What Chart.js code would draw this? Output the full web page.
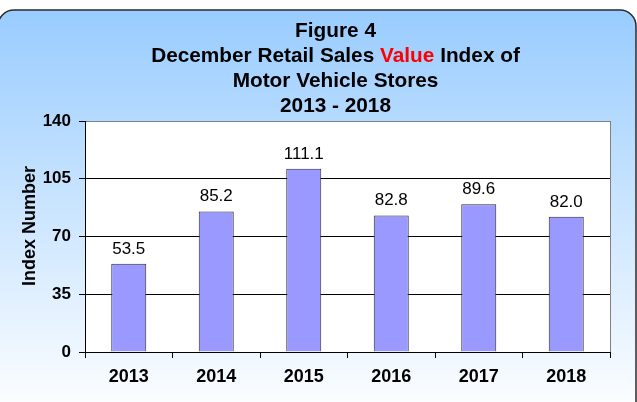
<!DOCTYPE html>
<html lang="en">
<head>
<meta charset="UTF-8">
<title>Figure 4</title>
<script src="https://cdn.jsdelivr.net/npm/chart.js"></script>
<style>
  html, body { margin: 0; padding: 0; background: #fff; }
  #wrap { width: 637px; height: 402px; position: relative; }
</style>
</head>
<body>
<div id="wrap">
  <canvas id="grafico" width="637" height="402"></canvas>
</div>
<script>
  // data
  const years = ['2013', '2014', '2015', '2016', '2017', '2018'];
  const indexValues = [53.5, 85.2, 111.1, 82.8, 89.6, 82.0];
  const yTicks = [0, 35, 70, 105, 140];
  const titleLines = [
    [['Figure 4', '#000']],
    [['December Retail Sales ', '#000'], ['Value', '#ff0000'], [' Index of', '#000']],
    [['Motor Vehicle Stores', '#000']],
    [['2013 - 2018', '#000']]
  ];
  const yTitle = 'Index Number';

  const FONT = '"Liberation Sans", Arial, sans-serif';

  // frame, gradient and white plot area
  const background = {
    id: 'background',
    beforeDraw(chart) {
      const c = chart.ctx;
      const a = chart.chartArea;
      c.save();
      const g = c.createLinearGradient(0, 10, 0, 402);
      g.addColorStop(0, '#99ccff');
      g.addColorStop(1, '#fbfdff');
      c.beginPath();
      c.roundRect(-2, 10, 638, 420, 16);
      c.fillStyle = g;
      c.fill();
      c.lineWidth = 1.5;
      c.strokeStyle = '#2a2a2a';
      c.stroke();
      c.fillStyle = '#fff';
      c.fillRect(a.left, a.top, a.right - a.left, a.bottom - a.top);
      c.restore();
    },
    afterDraw(chart) {
      const c = chart.ctx;
      const a = chart.chartArea;
      c.save();
      // right border of plot area
      c.strokeStyle = '#808080';
      c.lineWidth = 1;
      c.beginPath();
      c.moveTo(a.right + 0.5, a.top);
      c.lineTo(a.right + 0.5, a.bottom);
      c.stroke();

      // title, with "Value" in red
      c.font = 'bold 20.8px ' + FONT;
      c.textBaseline = 'middle';
      c.textAlign = 'left';
      const cx = 335.5;
      titleLines.forEach((parts, i) => {
        const w = parts.reduce((s, p) => s + c.measureText(p[0]).width, 0);
        let x = cx - w / 2;
        const y = 31 + i * 25;
        parts.forEach(p => {
          c.fillStyle = p[1];
          c.fillText(p[0], x, y);
          x += c.measureText(p[0]).width;
        });
      });

      // y axis title
      c.translate(30, 226);
      c.rotate(-Math.PI / 2);
      c.textAlign = 'center';
      c.fillStyle = '#000';
      c.font = 'bold 18px ' + FONT;
      c.fillText(yTitle, 0, 0);
      c.restore();

      // value labels above bars
      const meta = chart.getDatasetMeta(0);
      c.save();
      c.font = '17px ' + FONT;
      c.fillStyle = '#000';
      c.textAlign = 'center';
      c.textBaseline = 'alphabetic';
      meta.data.forEach((bar, i) => {
        c.fillText(indexValues[i].toFixed(1), bar.x, bar.y - 10);
      });
      c.restore();
    }
  };

  const ctx = document.getElementById('grafico');

  new Chart(ctx, {
    type: 'bar',
    data: {
      labels: years,
      datasets: [{
        data: indexValues,
        backgroundColor: '#9999ff',
        borderColor: '#2b2b2b',
        borderWidth: 1,
        borderSkipped: 'bottom',
        categoryPercentage: 1,
        barPercentage: 0.4
      }]
    },
    options: {
      responsive: false,
      animation: false,
      layout: { padding: { top: 121, right: 27, bottom: 0, left: 0 } },
      plugins: {
        legend: { display: false },
        tooltip: { enabled: false },
        title: { display: false }
      },
      scales: {
        x: {
          afterFit(s) { s.height = 50; },
          grid: {
            offset: true,
            drawOnChartArea: false,
            color: '#000',
            tickLength: 6
          },
          border: { color: '#000', width: 1 },
          ticks: {
            color: '#000',
            padding: 8,
            font: { family: FONT, size: 18, weight: 'bold' }
          }
        },
        y: {
          min: 0,
          max: 140,
          afterFit(s) { s.width = 85; },
          afterBuildTicks(s) { s.ticks = yTicks.map(v => ({ value: v })); },
          grid: {
            color: c => c.tick && c.tick.value === 140 ? '#808080' : '#000',
            tickLength: 6,
            tickColor: '#000'
          },
          border: { color: '#000', width: 1 },
          ticks: {
            color: '#000',
            padding: 8,
            font: { family: FONT, size: 17, weight: 'bold' }
          }
        }
      }
    },
    plugins: [background]
  });
</script>
</body>
</html>
